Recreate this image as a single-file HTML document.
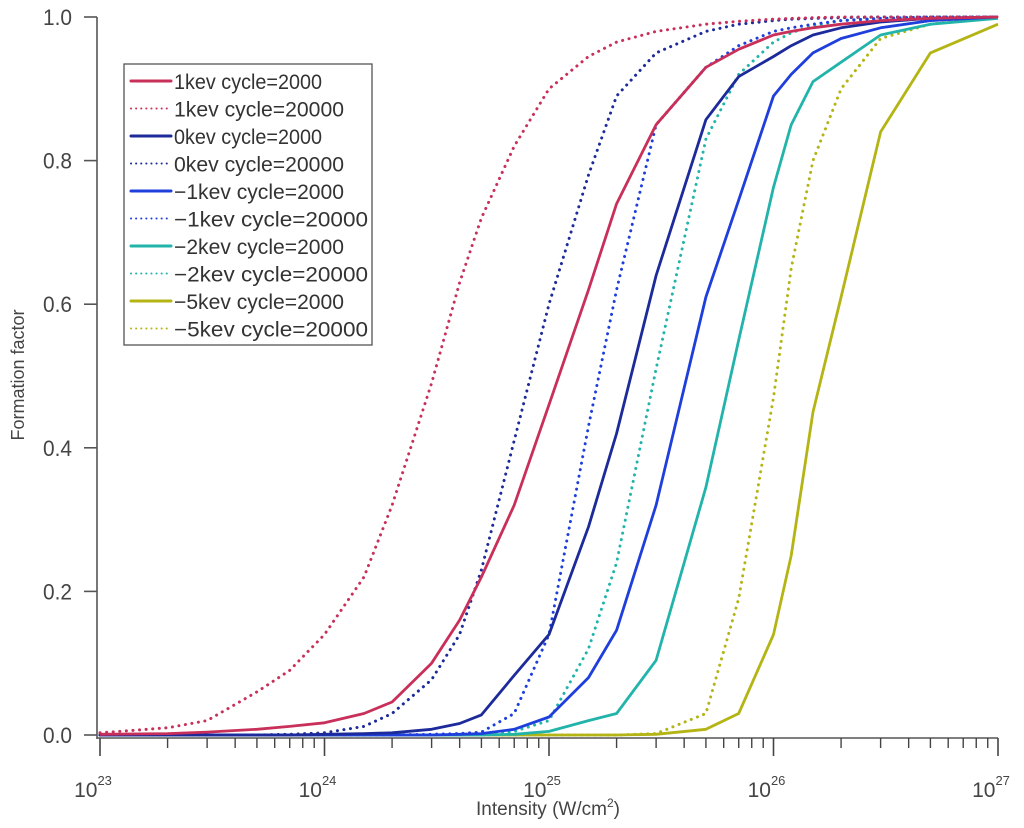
<!DOCTYPE html>
<html><head><meta charset="utf-8"><style>
body{margin:0;background:#fff;}
svg{display:block;font-family:"Liberation Sans",sans-serif;}
</style></head><body>
<svg id="chart" width="1024" height="828" viewBox="0 0 1024 828">
<g id="axes"></g>
<g id="series"></g>
<g id="legend"></g>
</svg>
<script>
const xLog = [23, 23.301, 23.477, 23.699, 23.845, 24, 24.176, 24.301, 24.477, 24.602, 24.699, 24.845, 25, 25.176, 25.301, 25.477, 25.699, 25.845, 26, 26.079, 26.176, 26.301, 26.477, 26.699, 27];
const s1k2000  = [0.001,0.002,0.004,0.008,0.012,0.017,0.03,0.046,0.1,0.16,0.22,0.32,0.46,0.62,0.74,0.85,0.93,0.955,0.975,0.98,0.985,0.99,0.995,0.998,1.0];
const s1k20000 = [0.003,0.01,0.02,0.06,0.09,0.14,0.22,0.32,0.49,0.63,0.72,0.82,0.9,0.945,0.965,0.98,0.99,0.994,0.997,0.998,0.999,1.0,1.0,1.0,1.0];
const s0k2000  = [0,0,0,0,0,0.001,0.002,0.003,0.008,0.016,0.028,0.083,0.14,0.29,0.42,0.64,0.857,0.917,0.945,0.96,0.975,0.985,0.993,0.998,1.0];
const s0k20000 = [0,0,0,0,0.001,0.003,0.012,0.03,0.077,0.14,0.23,0.41,0.6,0.78,0.89,0.95,0.98,0.99,0.995,0.997,0.998,0.999,1.0,1.0,1.0];
const sm1k2000 = [0,0,0,0,0,0,0,0,0,0.001,0.002,0.008,0.025,0.08,0.146,0.32,0.61,0.745,0.89,0.92,0.95,0.97,0.985,0.995,1.0];
const sm1k20000= [0,0,0,0,0,0,0,0,0.001,0.002,0.004,0.03,0.14,0.43,0.62,0.85,0.93,0.96,0.98,0.985,0.99,0.995,0.998,1.0,1.0];
const sm2k2000 = [0,0,0,0,0,0,0,0,0,0,0,0.001,0.005,0.02,0.03,0.104,0.345,0.55,0.763,0.85,0.91,0.937,0.975,0.99,0.998];
const sm2k20000= [0,0,0,0,0,0,0,0,0,0,0.001,0.005,0.02,0.12,0.24,0.51,0.83,0.92,0.965,0.978,0.988,0.995,0.998,1.0,1.0];
const sm5k2000 = [0,0,0,0,0,0,0,0,0,0,0,0,0,0,0,0.001,0.008,0.03,0.14,0.25,0.45,0.61,0.84,0.95,0.99];
const sm5k20000= [0,0,0,0,0,0,0,0,0,0,0,0,0,0,0,0.002,0.03,0.19,0.47,0.65,0.8,0.9,0.97,0.99,1.0];
const seriesNames = ["1kev cycle=2000","1kev cycle=20000","0kev cycle=2000","0kev cycle=20000","\u22121kev cycle=2000","\u22121kev cycle=20000","\u22122kev cycle=2000","\u22122kev cycle=20000","\u22125kev cycle=2000","\u22125kev cycle=20000"];
const seriesColors = ["#c8305a","#c8305a","#1c2a9a","#1c2a9a","#1f3fdc","#1f3fdc","#22b4aa","#22b4aa","#b4b414","#b4b414"];
const seriesDotted = [false,true,false,true,false,true,false,true,false,true];
const seriesData = [s1k2000,s1k20000,s0k2000,s0k20000,sm1k2000,sm1k20000,sm2k2000,sm2k20000,sm5k2000,sm5k20000];
const yTicks = [0,0.2,0.4,0.6,0.8,1.0];
const yTickLabels = ["0.0","0.2","0.4","0.6","0.8","1.0"];
const xDecades = [23,24,25,26,27];

const NS="http://www.w3.org/2000/svg";
const X0=100, X1=998, Y0=735, Y1=17;
function xs(l){return X0+(l-23)/(27-23)*(X1-X0);}
function ys(v){return Y0-v*(Y0-Y1);}
function mk(tag,attrs,parent){const e=document.createElementNS(NS,tag);for(const k in attrs)e.setAttribute(k,attrs[k]);parent.appendChild(e);return e;}
const axes=document.getElementById('axes'), ser=document.getElementById('series'), leg=document.getElementById('legend');

let la=mk('line',{x1:97,y1:Y1,x2:97,y2:739,stroke:'#555','stroke-width':1.6},axes);


let ba=mk('line',{x1:97,y1:738,x2:X1,y2:738,stroke:'#555','stroke-width':1.6},axes);


yTicks.forEach((v,i)=>{
  const t=mk('line',{x1:84,x2:97,y1:ys(v),y2:ys(v),stroke:'#555','stroke-width':1.6},axes);
  
  
  const tx=mk('text',{x:72,y:ys(v)+8,'text-anchor':'end','font-size':22,fill:'#444',textLength:29,lengthAdjust:'spacingAndGlyphs'},axes);
  tx.textContent=yTickLabels[i];
  
  
});
xDecades.forEach((d,i)=>{
  const t=mk('line',{x1:xs(d),x2:xs(d),y1:738,y2:756,stroke:'#444','stroke-width':1.6},axes);
  
  
  const tx=mk('text',{x:xs(d)-7,y:797,'text-anchor':'middle','font-size':21,fill:'#444'},axes);
  tx.textContent='10';
  
  
  const sp=mk('tspan',{dy:-12,'font-size':13},tx); sp.textContent=String(d);
  if(i<xDecades.length-1){for(let m=2;m<=9;m++){
    const lx=xs(d+Math.log10(m));
    const mt=mk('line',{x1:lx,x2:lx,y1:738,y2:748,stroke:'#444','stroke-width':1.4},axes);
    
    
  }}
});
const xt=mk('text',{x:548,y:815,'text-anchor':'middle','font-size':19,fill:'#444'},axes);
xt.innerHTML='Intensity (W/cm<tspan dy="-8" font-size="12">2</tspan><tspan dy="8">)</tspan>';


const yt=mk('text',{x:24,y:375,'text-anchor':'middle','font-size':18,fill:'#444',transform:'rotate(-90 24 375)'},axes);
yt.textContent='Formation factor';



for(let s=seriesData.length-1;s>=0;s--){
  const d=seriesData[s].map((v,i)=>(i?'L':'M')+xs(xLog[i]).toFixed(1)+','+ys(v).toFixed(1)).join(' ');
  const p=mk('path',{d:d,fill:'none',stroke:seriesColors[s],'stroke-width':seriesDotted[s]?3:2.8,'stroke-linecap':seriesDotted[s]?'round':'butt','stroke-linejoin':'round'},ser);
  if(seriesDotted[s]){p.setAttribute('stroke-dasharray','0.1 6.5');}
  
  
}

const box=mk('rect',{x:124,y:64,width:248,height:281,fill:'#fff',stroke:'#555','stroke-width':1.3},leg);


seriesNames.forEach((n,i)=>{
  const y=81+i*27.5;
  const l=mk('line',{x1:131,x2:171,y1:y,y2:y,stroke:seriesColors[i],'stroke-width':seriesDotted[i]?2:3,'stroke-linecap':'round'},leg);
  if(seriesDotted[i])l.setAttribute('stroke-dasharray','0.1 5');
  
  
  const tl = n.length>=17?194:(n.length>=16?170:148);
  const t=mk('text',{x:174,y:y+8,'font-size':21,fill:'#333',textLength:tl,lengthAdjust:'spacingAndGlyphs'},leg);
  t.textContent=n;
  
  
});
</script>
</body></html>
